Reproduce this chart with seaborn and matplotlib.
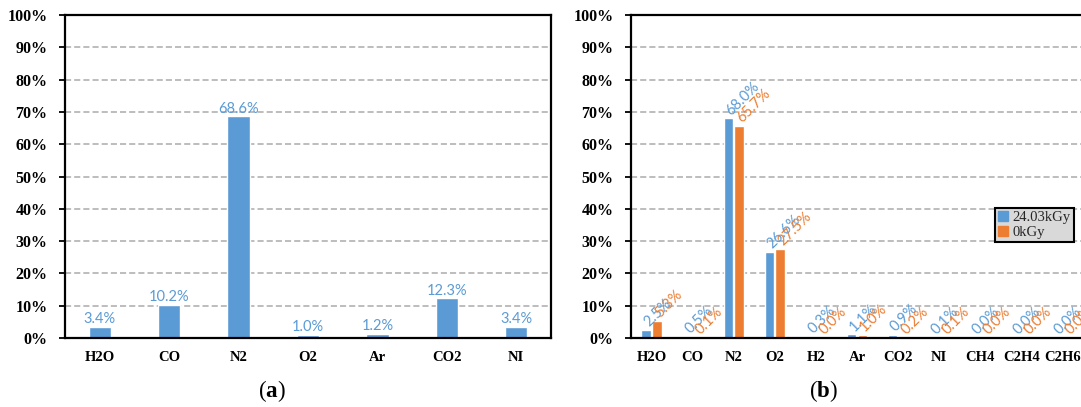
import pandas as pd
import matplotlib
matplotlib.use("Agg")
import matplotlib.pyplot as plt
import seaborn as sns
from matplotlib.ticker import PercentFormatter
from matplotlib.patches import Patch

# panel (a)
gases_a = ["H2O", "CO", "N2", "O2", "Ar", "CO2", "NI"]
share_a = [3.4, 10.2, 68.6, 1.0, 1.2, 12.3, 3.4]

# panel (b)
gases_b = ["H2O", "CO", "N2", "O2", "H2", "Ar", "CO2", "NI", "CH4", "C2H4", "C2H6"]
share_irr = [2.5, 0.5, 68.0, 26.6, 0.3, 1.1, 0.9, 0.1, 0.0, 0.0, 0.0]
share_ref = [5.3, 0.1, 65.7, 27.5, 0.0, 1.0, 0.2, 0.1, 0.0, 0.0, 0.0]
doses = ["24.03kGy", "0kGy"]

blue = "#5B9BD5"
orange = "#ED7D31"

sns.set_theme(style="white")
plt.rcParams["font.family"] = ["Liberation Serif", "DejaVu Serif"]
plt.rcParams["mathtext.fontset"] = "custom"
plt.rcParams["mathtext.rm"] = "Liberation Serif"
plt.rcParams["mathtext.bf"] = "Liberation Serif:bold"

fig = plt.figure(figsize=(10.81, 4.07), dpi=100)
ax1 = fig.add_axes([0.0601, 0.1695, 0.4496, 0.7936])
ax2 = fig.add_axes([0.5837, 0.1695, 0.4181, 0.7936])

sns.barplot(x=gases_a, y=share_a, color=blue, width=0.32, saturation=1, ax=ax1)

df_b = pd.DataFrame({
    "gas": gases_b * 2,
    "share": share_irr + share_ref,
    "dose": [doses[0]] * len(gases_b) + [doses[1]] * len(gases_b),
})
sns.barplot(data=df_b, x="gas", y="share", hue="dose", palette=[blue, orange],
            width=0.52, gap=0.12, saturation=1, legend=False, ax=ax2)

# value labels
for patch, val in zip(ax1.patches, share_a):
    ax1.annotate(f"{val:.1f}%", (patch.get_x() + patch.get_width() / 2, val),
                 xytext=(0, 0.5), textcoords="offset points", ha="center", va="bottom",
                 color=blue, fontsize=10.5, family="Lato")

for cont, vals, col in zip(ax2.containers, [share_irr, share_ref], [blue, orange]):
    for patch, val in zip(cont, vals):
        ax2.annotate(f"{val:.1f}%", (patch.get_x() + patch.get_width() / 2, val),
                     xytext=(0, 4), textcoords="offset points", ha="left", va="center",
                     rotation=45, rotation_mode="anchor", color=col, fontsize=10.5,
                     family="Lato", annotation_clip=False)

for ax, n in ((ax1, len(gases_a)), (ax2, len(gases_b))):
    ax.set_xlim(-0.5, n - 0.5)
    ax.set_ylim(0, 100)
    ax.set_yticks(range(0, 101, 10))
    ax.yaxis.set_major_formatter(PercentFormatter(xmax=100, decimals=0))
    ax.yaxis.grid(True, linestyle=(0, (4, 2)), color="#ABABAB", linewidth=1.1)
    ax.set_axisbelow(True)
    ax.set_xlabel("")
    ax.set_ylabel("")
    for sp in ax.spines.values():
        sp.set_color("black")
        sp.set_linewidth(1.6)
    ax.tick_params(axis="y", left=True, length=4.5, width=1.3, pad=8, labelsize=11.5,
                   colors="black")
    ax.tick_params(axis="x", bottom=False, length=0, pad=9, labelsize=10.5,
                   colors="black")
    for lab in ax.get_xticklabels() + ax.get_yticklabels():
        lab.set_fontweight("bold")

ax2.spines["right"].set_visible(False)

handles = [Patch(color=blue, label=doses[0]), Patch(color=orange, label=doses[1])]
leg = ax2.legend(handles=handles, loc="upper left", bbox_to_anchor=(995 / 1081, 1 - 208 / 407),
                 bbox_transform=fig.transFigure, frameon=True, fancybox=False,
                 facecolor="#D9D9D9", edgecolor="black", framealpha=1, fontsize=10.5,
                 handlelength=0.7, handleheight=0.7, handletextpad=0.3, borderpad=0.2,
                 labelspacing=0.1, borderaxespad=0)
leg.get_frame().set_linewidth(1.5)

fig.text(272 / 1081, 1 - 391 / 407, r"$\mathrm{(}\mathbf{a}\mathrm{)}$", ha="center",
         va="center", fontsize=16.5, color="black")
fig.text(823 / 1081, 1 - 391 / 407, r"$\mathrm{(}\mathbf{b}\mathrm{)}$", ha="center",
         va="center", fontsize=16.5, color="black")

fig.savefig("out.png", dpi=100)
